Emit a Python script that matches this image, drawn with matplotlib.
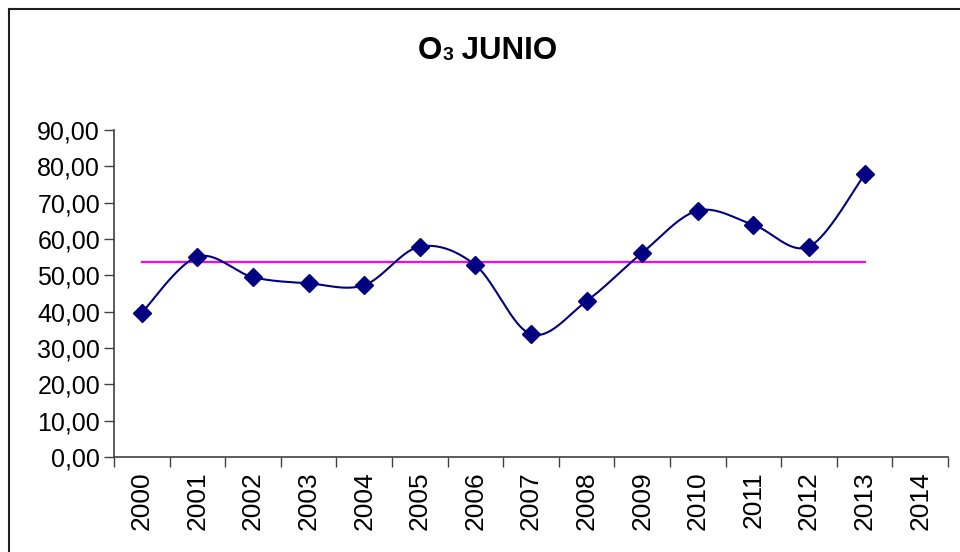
import numpy as np
import matplotlib
matplotlib.use("Agg")
import matplotlib.pyplot as plt
from matplotlib.lines import Line2D
from matplotlib.ticker import FuncFormatter, FixedLocator

# data
years = [str(y) for y in range(2000, 2015)]
o3_junio = [39.7, 55.1, 49.5, 47.8, 47.3, 57.9, 52.8, 33.8, 42.9, 56.2, 67.8, 63.9, 57.9, 77.8]
y_ticks = [0, 10, 20, 30, 40, 50, 60, 70, 80, 90]

plt.rcParams['font.family'] = ['Liberation Sans', 'DejaVu Sans']


def smooth(xs, ys, sx, sy, n=40):
    # Excel-like smoothed line (Catmull-Rom style bezier), done in pixel-ish space
    p = np.column_stack([np.asarray(xs, float) * sx, np.asarray(ys, float) * sy])
    out = []
    for i in range(len(p) - 1):
        p0 = p[i - 1] if i > 0 else p[i]
        p1 = p[i]
        p2 = p[i + 1]
        p3 = p[i + 2] if i + 2 < len(p) else p[i + 1]
        c1 = p1 + (p2 - p0) / 6.0
        c2 = p2 - (p3 - p1) / 6.0
        t = np.linspace(0, 1, n)[:, None]
        seg = ((1 - t) ** 3) * p1 + 3 * ((1 - t) ** 2) * t * c1 + 3 * (1 - t) * t ** 2 * c2 + t ** 3 * p2
        out.append(seg if i == 0 else seg[1:])
    out = np.vstack(out)
    return out[:, 0] / sx, out[:, 1] / sy


def main():
    fig = plt.figure(figsize=(9.6, 5.52), dpi=100)
    ax = fig.add_axes([114 / 960, 1 - 457 / 552, (948 - 114) / 960, (457 - 130) / 552])

    xs = np.arange(len(o3_junio))
    sx, sy = 834 / 15, 327 / 90
    lx, ly = smooth(xs, o3_junio, sx, sy)
    ax.plot(lx, ly, color='#000080', lw=1.5, zorder=3)
    ax.plot(xs, o3_junio, ls='none', marker='D', ms=9, color='#000080', zorder=4)

    avg = np.mean(o3_junio)
    ax.plot([xs[0], xs[-1]], [avg, avg], color='#FF00FF', lw=1.6, zorder=2)

    ax.set_xlim(-0.5, len(years) - 0.5)
    ax.set_ylim(0, 90)
    ax.set_yticks(y_ticks)
    ax.yaxis.set_major_formatter(FuncFormatter(lambda v, pos: f"{v:.2f}".replace('.', ',')))
    ax.xaxis.set_major_locator(FixedLocator(np.arange(len(years))))
    ax.set_xticklabels(years, rotation=90, va='top', ha='center')
    ax.xaxis.set_minor_locator(FixedLocator(np.arange(len(years) + 1) - 0.5))
    ax.tick_params(axis='x', which='major', length=0, pad=10, labelsize=19)
    ax.tick_params(axis='x', which='minor', length=7, width=1, color='#404040')
    ax.tick_params(axis='y', length=7, width=1, color='#404040', labelsize=18, pad=3)

    for s in ['top', 'right']:
        ax.spines[s].set_visible(False)
    for s in ['left', 'bottom']:
        ax.spines[s].set_color('#404040')
        ax.spines[s].set_linewidth(1.2)

    # outer chart frame (only left and top edges are inside the image)
    fig.add_artist(Line2D([8.5 / 960, 8.5 / 960], [0, 1 - 9 / 552], transform=fig.transFigure, color='#202020', lw=1.5))
    fig.add_artist(Line2D([8.5 / 960, 1], [1 - 9 / 552, 1 - 9 / 552], transform=fig.transFigure, color='#202020', lw=1.5))

    # title "O3 JUNIO" with small 3
    t1 = fig.text(418 / 960, 1 - 59 / 552, 'O', fontsize=22.5, fontweight='bold', va='baseline', ha='left')
    t2 = ax.annotate('3', xy=(1, 0), xycoords=t1, xytext=(0, 1.5), textcoords='offset points',
                     fontsize=14, fontweight='bold', va='bottom', ha='left', annotation_clip=False)
    ax.annotate(' JUNIO', xy=(1, 0), xycoords=t1, xytext=(t2.get_window_extent(fig.canvas.get_renderer()).width * 0.72, 0),
                textcoords='offset points', fontsize=22.5, fontweight='bold', va='bottom', ha='left',
                annotation_clip=False)

    fig.savefig('out.png', dpi=100)


if __name__ == "__main__":
    main()
